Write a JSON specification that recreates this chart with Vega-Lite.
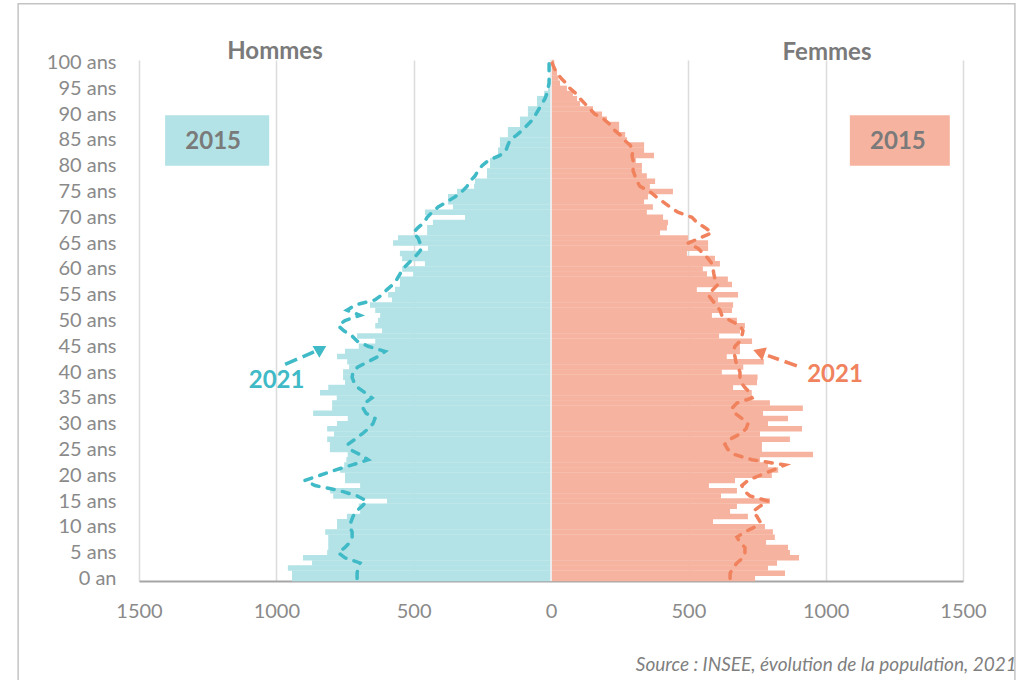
{
"$schema": "https://vega.github.io/schema/vega-lite/v6.json",
"width": 824, "height": 521,
"autosize": {"type": "none"},
"padding": {"left": 139, "top": 60, "right": 73, "bottom": 99},
"background": "white",
"config": {"view": {"stroke": null}, "font": "Lato",
  "axisY": {"labelOverlap": false, "labelFlush": false},
  "axisX": {"labelOverlap": false, "labelFlush": false}},
"datasets": {"pyramide": [
{"age":0,"h2015":-943,"f2015":743,"h2021":-706,"f2021":652},
{"age":1,"h2015":-943,"f2015":852,"h2021":-706,"f2021":652},
{"age":2,"h2015":-958,"f2015":790,"h2021":-703,"f2021":663},
{"age":3,"h2015":-870,"f2015":823,"h2021":-695,"f2021":677},
{"age":4,"h2015":-903,"f2015":903,"h2021":-750,"f2021":699},
{"age":5,"h2015":-815,"f2015":870,"h2021":-775,"f2021":706},
{"age":6,"h2015":-811,"f2015":863,"h2021":-750,"f2021":706},
{"age":7,"h2015":-811,"f2015":783,"h2021":-732,"f2021":688},
{"age":8,"h2015":-811,"f2015":815,"h2021":-724,"f2021":677},
{"age":9,"h2015":-822,"f2015":808,"h2021":-724,"f2021":706},
{"age":10,"h2015":-779,"f2015":779,"h2021":-732,"f2021":743},
{"age":11,"h2015":-779,"f2015":590,"h2021":-728,"f2021":761},
{"age":12,"h2015":-743,"f2015":717,"h2021":-721,"f2021":750},
{"age":13,"h2015":-695,"f2015":652,"h2021":-710,"f2021":735},
{"age":14,"h2015":-700,"f2015":677,"h2021":-688,"f2021":761},
{"age":15,"h2015":-597,"f2015":797,"h2021":-670,"f2021":790},
{"age":16,"h2015":-793,"f2015":619,"h2021":-706,"f2021":724},
{"age":17,"h2015":-804,"f2015":677,"h2021":-768,"f2021":703},
{"age":18,"h2015":-695,"f2015":575,"h2021":-859,"f2021":695},
{"age":19,"h2015":-750,"f2015":670,"h2021":-896,"f2021":717},
{"age":20,"h2015":-750,"f2015":804,"h2021":-841,"f2021":761},
{"age":21,"h2015":-768,"f2015":827,"h2021":-786,"f2021":808},
{"age":22,"h2015":-753,"f2015":790,"h2021":-724,"f2021":852},
{"age":23,"h2015":-745,"f2015":761,"h2021":-666,"f2021":732},
{"age":24,"h2015":-740,"f2015":954,"h2021":-695,"f2021":670},
{"age":25,"h2015":-805,"f2015":768,"h2021":-732,"f2021":644},
{"age":26,"h2015":-805,"f2015":768,"h2021":-739,"f2021":633},
{"age":27,"h2015":-815,"f2015":870,"h2021":-713,"f2021":652},
{"age":28,"h2015":-790,"f2015":761,"h2021":-688,"f2021":688},
{"age":29,"h2015":-815,"f2015":914,"h2021":-666,"f2021":710},
{"age":30,"h2015":-779,"f2015":790,"h2021":-648,"f2021":717},
{"age":31,"h2015":-740,"f2015":863,"h2021":-641,"f2021":695},
{"age":32,"h2015":-866,"f2015":772,"h2021":-673,"f2021":670},
{"age":33,"h2015":-797,"f2015":917,"h2021":-684,"f2021":659},
{"age":34,"h2015":-797,"f2015":797,"h2021":-677,"f2021":677},
{"age":35,"h2015":-780,"f2015":732,"h2021":-652,"f2021":732},
{"age":36,"h2015":-841,"f2015":731,"h2021":-677,"f2021":724},
{"age":37,"h2015":-811,"f2015":663,"h2021":-703,"f2021":706},
{"age":38,"h2015":-750,"f2015":750,"h2021":-717,"f2021":692},
{"age":39,"h2015":-757,"f2015":752,"h2021":-724,"f2021":688},
{"age":40,"h2015":-757,"f2015":622,"h2021":-721,"f2021":688},
{"age":41,"h2015":-735,"f2015":700,"h2021":-703,"f2021":681},
{"age":42,"h2015":-742,"f2015":775,"h2021":-666,"f2021":673},
{"age":43,"h2015":-779,"f2015":640,"h2021":-630,"f2021":670},
{"age":44,"h2015":-750,"f2015":688,"h2021":-604,"f2021":663},
{"age":45,"h2015":-700,"f2015":688,"h2021":-666,"f2021":670},
{"age":46,"h2015":-640,"f2015":732,"h2021":-706,"f2021":688},
{"age":47,"h2015":-706,"f2015":612,"h2021":-724,"f2021":695},
{"age":48,"h2015":-615,"f2015":688,"h2021":-754,"f2021":699},
{"age":49,"h2015":-640,"f2015":706,"h2021":-775,"f2021":688},
{"age":50,"h2015":-630,"f2015":677,"h2021":-750,"f2021":652},
{"age":51,"h2015":-622,"f2015":586,"h2021":-695,"f2021":622},
{"age":52,"h2015":-640,"f2015":659,"h2021":-743,"f2021":615},
{"age":53,"h2015":-659,"f2015":663,"h2021":-713,"f2021":601},
{"age":54,"h2015":-579,"f2015":608,"h2021":-641,"f2021":586},
{"age":55,"h2015":-593,"f2015":681,"h2021":-615,"f2021":572},
{"age":56,"h2015":-568,"f2015":531,"h2021":-597,"f2021":590},
{"age":57,"h2015":-550,"f2015":659,"h2021":-575,"f2021":608},
{"age":58,"h2015":-550,"f2015":644,"h2021":-561,"f2021":597},
{"age":59,"h2015":-502,"f2015":568,"h2021":-550,"f2021":593},
{"age":60,"h2015":-542,"f2015":553,"h2021":-539,"f2021":590},
{"age":61,"h2015":-459,"f2015":615,"h2021":-521,"f2021":586},
{"age":62,"h2015":-542,"f2015":597,"h2021":-502,"f2021":572},
{"age":63,"h2015":-550,"f2015":495,"h2021":-484,"f2021":553},
{"age":64,"h2015":-448,"f2015":572,"h2021":-470,"f2021":535},
{"age":65,"h2015":-575,"f2015":572,"h2021":-477,"f2021":499},
{"age":66,"h2015":-557,"f2015":499,"h2021":-484,"f2021":542},
{"age":67,"h2015":-451,"f2015":397,"h2021":-502,"f2021":586},
{"age":68,"h2015":-451,"f2015":422,"h2021":-484,"f2021":561},
{"age":69,"h2015":-430,"f2015":426,"h2021":-462,"f2021":531},
{"age":70,"h2015":-313,"f2015":408,"h2021":-451,"f2021":513},
{"age":71,"h2015":-459,"f2015":349,"h2021":-433,"f2021":462},
{"age":72,"h2015":-357,"f2015":371,"h2021":-411,"f2021":433},
{"age":73,"h2015":-375,"f2015":339,"h2021":-379,"f2021":408},
{"age":74,"h2015":-375,"f2015":353,"h2021":-349,"f2021":382},
{"age":75,"h2015":-342,"f2015":444,"h2021":-324,"f2021":360},
{"age":76,"h2015":-280,"f2015":360,"h2021":-306,"f2021":324},
{"age":77,"h2015":-277,"f2015":379,"h2021":-295,"f2021":313},
{"age":78,"h2015":-233,"f2015":349,"h2021":-277,"f2021":306},
{"age":79,"h2015":-233,"f2015":331,"h2021":-266,"f2021":299},
{"age":80,"h2015":-222,"f2015":331,"h2021":-251,"f2021":299},
{"age":81,"h2015":-222,"f2015":309,"h2021":-229,"f2021":299},
{"age":82,"h2015":-193,"f2015":375,"h2021":-186,"f2021":295},
{"age":83,"h2015":-193,"f2015":339,"h2021":-164,"f2021":299},
{"age":84,"h2015":-186,"f2015":339,"h2021":-157,"f2021":288},
{"age":85,"h2015":-186,"f2015":277,"h2021":-149,"f2021":266},
{"age":86,"h2015":-157,"f2015":270,"h2021":-124,"f2021":251},
{"age":87,"h2015":-157,"f2015":248,"h2021":-102,"f2021":229},
{"age":88,"h2015":-113,"f2015":248,"h2021":-84,"f2021":215},
{"age":89,"h2015":-113,"f2015":204,"h2021":-66,"f2021":193},
{"age":90,"h2015":-84,"f2015":186,"h2021":-55,"f2021":160},
{"age":91,"h2015":-84,"f2015":153,"h2021":-44,"f2021":142},
{"age":92,"h2015":-51,"f2015":106,"h2021":-33,"f2021":124},
{"age":93,"h2015":-51,"f2015":95,"h2021":-22,"f2021":106},
{"age":94,"h2015":-25,"f2015":80,"h2021":-15,"f2021":91},
{"age":95,"h2015":-11,"f2015":58,"h2021":-11,"f2021":69},
{"age":96,"h2015":-5,"f2015":33,"h2021":-7,"f2021":55},
{"age":97,"h2015":-4,"f2015":27,"h2021":-7,"f2021":36},
{"age":98,"h2015":-3,"f2015":22,"h2021":-7,"f2021":22},
{"age":99,"h2015":-2,"f2015":15,"h2021":-7,"f2021":11},
{"age":100,"h2015":-2,"f2015":12,"h2021":-7,"f2021":4}
]},
"encoding": {
  "y": {"field": "age", "type": "quantitative", "title": null,
   "scale": {"domain": [-0.5, 100.5], "nice": false, "zero": false, "padding": 0},
   "axis": {"values": [0,5,10,15,20,25,30,35,40,45,50,55,60,65,70,75,80,85,90,95,100],
    "labelExpr": "datum.value == 0 ? '0 an' : datum.value + ' ans'", "title": null,
    "domain": false, "ticks": false, "grid": false,
    "labelFont": "Lato", "labelFontSize": 20, "labelColor": "#8a8a8a", "labelPadding": 23,
    "labelFlush": false, "labelOverlap": false}}
},
"layer": [
{"data": {"name": "pyramide"},
 "mark": {"type": "bar", "orient": "horizontal", "size": 5.5, "color": "#B3E3E6"},
 "encoding": {
  "x": {"field": "h2015", "type": "quantitative", "title": null,
   "scale": {"domain": [-1500, 1500], "nice": false},
   "axis": {"values": [-1500,-1000,-500,0,500,1000,1500], "labelExpr": "abs(datum.value)", "title": null,
    "domain": true, "domainColor": "#a6a6a6", "domainWidth": 2, "ticks": false,
    "grid": true, "gridColor": "#dcdcdc", "gridWidth": 1.5,
    "labelFont": "Lato", "labelFontSize": 20, "labelColor": "#8a8a8a", "labelPadding": 20,
    "labelFlush": false, "labelOverlap": false}}}},
{"data": {"name": "pyramide"},
 "mark": {"type": "bar", "orient": "horizontal", "size": 5.5, "color": "#F6B4A0"},
 "encoding": {"x": {"field": "f2015", "type": "quantitative", "title": null}}},
{"data": {"values": [{"age": 50}]},
 "mark": {"type": "rule", "color": "#ececec", "strokeWidth": 2},
 "encoding": {"x": {"datum": 0, "type": "quantitative"}, "y": null}},
{"data": {"name": "pyramide"},
 "mark": {"type": "line", "color": "#40BAC6", "strokeWidth": 3.5, "strokeDash": [7, 8.5], "strokeCap": "round"},
 "encoding": {
  "x": {"field": "h2021", "type": "quantitative", "title": null},
  "order": {"field": "age", "type": "quantitative"}}},
{"data": {"name": "pyramide"},
 "mark": {"type": "line", "color": "#F0825E", "strokeWidth": 3.5, "strokeDash": [7, 8.5], "strokeCap": "round"},
 "encoding": {
  "x": {"field": "f2021", "type": "quantitative", "title": null},
  "order": {"field": "age", "type": "quantitative"}}},
{"data": {"values": [{"v1": -1405, "v2": -1026, "age": 80, "age2": 89.8}]},
 "mark": {"type": "rect", "color": "#B3E3E6", "clip": false},
 "encoding": {
  "x": {"field": "v1", "type": "quantitative", "title": null}, "x2": {"field": "v2"},
  "y2": {"field": "age2"}}},
{"data": {"values": [{"v1": 1088, "v2": 1452, "age": 80, "age2": 89.8}]},
 "mark": {"type": "rect", "color": "#F6B4A0", "clip": false},
 "encoding": {
  "x": {"field": "v1", "type": "quantitative", "title": null}, "x2": {"field": "v2"},
  "y2": {"field": "age2"}}},
{"data": {"values": [
  {"texte": "2015", "v": -1230, "age": 84.6},
  {"texte": "2015", "v": 1263, "age": 84.6},
  {"texte": "Hommes", "v": -1005, "age": 102.0},
  {"texte": "Femmes", "v": 1005, "age": 101.8}]},
 "mark": {"type": "text", "font": "Lato", "fontWeight": "bold", "fontSize": 24, "color": "#7a7a7a", "align": "center", "baseline": "middle"},
 "encoding": {
  "x": {"field": "v", "type": "quantitative", "title": null},
  "text": {"field": "texte"}}},
{"data": {"values": [{"texte": "2021", "v": -999, "age": 38.3}]},
 "mark": {"type": "text", "font": "Lato", "fontWeight": "bold", "fontSize": 24, "color": "#40BAC6", "align": "center", "baseline": "middle"},
 "encoding": {
  "x": {"field": "v", "type": "quantitative", "title": null},
  "text": {"field": "texte"}}},
{"data": {"values": [{"texte": "2021", "v": 1034, "age": 39.4}]},
 "mark": {"type": "text", "font": "Lato", "fontWeight": "bold", "fontSize": 24, "color": "#F0825E", "align": "center", "baseline": "middle"},
 "encoding": {
  "x": {"field": "v", "type": "quantitative", "title": null},
  "text": {"field": "texte"}}},
{"data": {"values": [{"v": -968, "age": 41.5, "o": 1}, {"v": -863, "age": 43.9, "o": 2}]},
 "mark": {"type": "line", "color": "#40BAC6", "strokeWidth": 3.5, "strokeDash": [13, 6]},
 "encoding": {
  "x": {"field": "v", "type": "quantitative", "title": null},
  "order": {"field": "o", "type": "quantitative"}}},
{"data": {"values": [{"v": 895, "age": 41.2, "o": 1}, {"v": 790, "age": 43.2, "o": 2}]},
 "mark": {"type": "line", "color": "#F0825E", "strokeWidth": 3.5, "strokeDash": [13, 6]},
 "encoding": {
  "x": {"field": "v", "type": "quantitative", "title": null},
  "order": {"field": "o", "type": "quantitative"}}},
{"data": {"values": [{"v": -837, "age": 44.5}]},
 "mark": {"type": "point", "shape": "triangle-up", "filled": true, "size": 190, "angle": 60, "color": "#40BAC6", "opacity": 1},
 "encoding": {"x": {"field": "v", "type": "quantitative", "title": null}}},
{"data": {"values": [{"v": 757, "age": 43.9}]},
 "mark": {"type": "point", "shape": "triangle-up", "filled": true, "size": 190, "angle": 289, "color": "#F0825E", "opacity": 1},
 "encoding": {"x": {"field": "v", "type": "quantitative", "title": null}}},
{"data": {"values": [{"texte": "Source : INSEE, évolution de la population, 2021", "v": 1696, "age": -16.8}]},
 "mark": {"type": "text", "font": "Lato", "fontStyle": "italic", "fontSize": 19, "color": "#7f7f7f", "align": "right", "baseline": "middle"},
 "encoding": {
  "x": {"field": "v", "type": "quantitative", "title": null},
  "text": {"field": "texte"}}},
{"data": {"values": [{"v1": -1940, "v2": 1689, "age": -21.6, "age2": 111.4}]},
 "mark": {"type": "rect", "fill": null, "stroke": "#c4c4c4", "strokeWidth": 1.5, "clip": false},
 "encoding": {
  "x": {"field": "v1", "type": "quantitative", "title": null}, "x2": {"field": "v2"},
  "y2": {"field": "age2"}}}
]
}
